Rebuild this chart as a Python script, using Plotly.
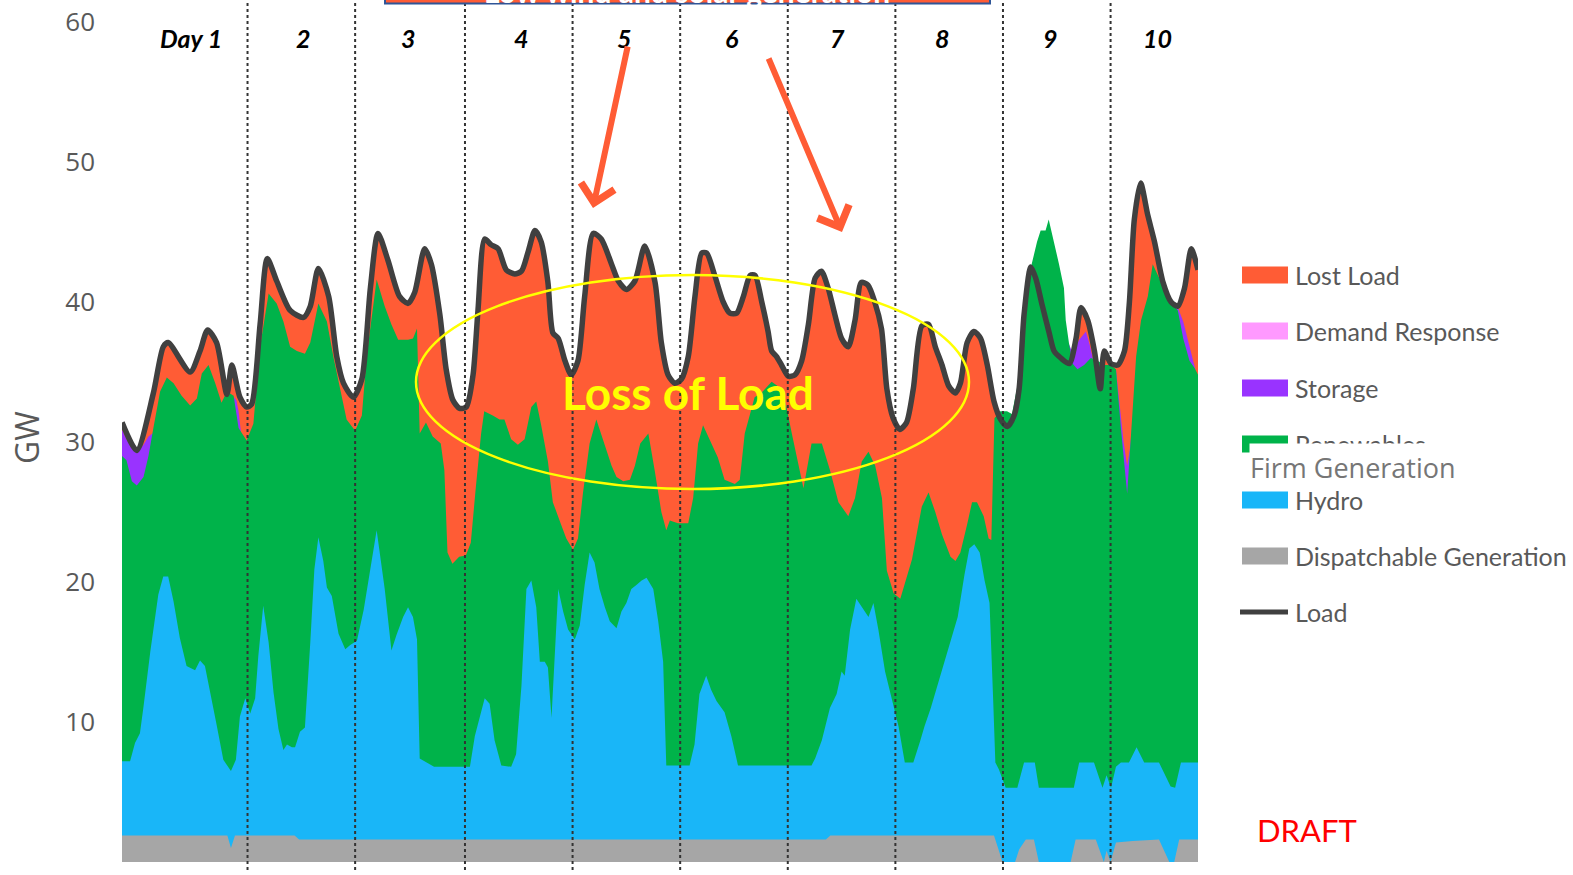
import plotly.graph_objects as go

# Hours from the start of the 10-day window and GW.
load_hours = [0, 3.3, 7.0, 9.2, 10.3, 15.2, 17.4, 19.1, 21.1, 23.4, 24.5, 26.3, 27.8, 28.9,
              30.8, 32.4, 34.5, 37.5, 40.5, 42.0, 43.8, 46.1, 47.9, 49.4, 51.6, 53.5, 55.4, 57.1,
              59.3, 61.9, 63.8, 65.3, 67.5, 69.0, 70.9, 72.3, 73.8, 75.3, 76.8, 78.3, 79.4, 80.9,
              82.3, 83.9, 85.7, 87.6, 89.1, 90.6, 92.1, 93.5, 95.0, 96.1, 97.3, 98.8, 100.2, 101.7,
              103.2, 105.1, 106.9, 109.2, 110.7, 112.5, 114.4, 116.6, 118.9, 120.3, 121.8, 123.3,
              124.8, 126.3, 127.8, 129.3, 130.4, 132.2, 134.1, 135.6, 137.1, 138.6, 140.1, 141.2,
              142.7, 144.1, 144.9, 146.0, 147.1, 148.6, 150.1, 151.6, 153.1, 154.6, 156.0, 157.5,
              159.0, 160.5, 162.0, 163.5, 164.9, 166.4, 167.9, 169.4, 170.6, 172.0, 173.5, 175.0,
              176.5, 178.4, 179.9, 181.4, 182.9, 184.4, 185.9, 187.0, 188.5, 190.0, 191.5, 193.0,
              194.5, 196.0, 197.5, 199.0, 200.1, 201.2, 202.7, 203.8, 205.3, 206.8, 207.9, 209.4,
              211.3, 212.8, 213.9, 215.4, 216.9, 218.2, 219.1, 220.6, 222.1, 223.6, 224.7, 225.8,
              227.2, 228.8, 230.3, 232.2, 234.0, 235.5, 237.0, 238.5, 240.0]
load_gw = [31.4, 29.4, 33.5, 36.8, 37.1, 35.0, 36.5, 38.0, 37.1, 33.4, 35.5, 33.2, 32.5, 32.7,
           38.4, 43.1, 41.5, 39.4, 38.9, 39.7, 42.4, 40.4, 36.1, 34.2, 33.2, 34.5, 41.0, 44.9,
           43.0, 40.4, 39.9, 40.7, 43.8, 42.7, 39.1, 35.2, 33.0, 32.4, 32.5, 34.8, 39.4, 44.5,
           44.1, 43.8, 42.3, 42.0, 42.2, 43.6, 45.1, 44.3, 41.4, 37.8, 37.4, 35.8, 34.8, 35.8,
           40.4, 44.9, 44.5, 42.7, 41.5, 40.9, 41.5, 44.0, 41.4, 37.1, 34.8, 34.2,
           34.5, 36.1, 40.4, 43.5, 43.5, 41.9, 40.0, 39.2, 39.2, 40.4, 41.9, 41.9,
           40.0, 37.9, 36.5, 36.1, 35.5, 34.7, 34.8, 35.8, 38.4, 41.7, 42.2, 41.0,
           39.1, 37.4, 36.8, 38.7, 41.4, 41.2, 40.0, 38.1, 33.8, 31.7, 30.9, 31.4,
           33.8, 38.3, 38.4, 36.8, 35.5, 34.0, 33.5, 34.2, 37.1, 37.9, 37.4, 35.5,
           32.9, 31.6, 31.1, 31.9, 33.8, 39.1, 42.5, 41.7, 39.7, 37.8, 36.5, 36.0,
           35.6, 37.4, 39.6, 38.7, 36.5, 33.8, 36.5, 35.6, 35.5, 36.5, 40.0, 45.9,
           48.5, 46.2, 44.3, 41.4, 40.0, 39.7, 41.0, 43.8, 42.3]

renew_hours = [0, 1.0, 2.2, 3.3, 4.8, 5.9, 7.0, 8.5, 10.0, 11.5, 13.3, 15.2, 16.7, 17.8, 19.3,
               20.8, 22.2, 23.4, 24.9, 26.0, 27.8, 29.3, 30.8, 32.7, 34.5, 36.0, 37.5, 39.0, 40.8,
               42.0, 43.8, 45.7, 47.2, 48.7, 50.1, 52.0, 53.5, 54.6, 56.8, 58.6, 60.1, 61.6, 63.8,
               64.9, 65.8, 66.4, 67.8, 69.3, 71.1, 71.9, 72.6, 73.7, 75.2, 76.7, 77.8, 78.9, 80.1,
               80.8, 82.7, 84.2, 85.3, 86.8, 88.3, 89.8, 91.3, 92.4, 93.5, 95.0, 96.1, 97.6, 99.1,
               100.6, 101.7, 102.8, 104.3, 105.8, 107.3, 109.2, 110.3, 111.8, 113.3, 114.4, 115.6,
               117.4, 118.8, 120.3, 121.4, 122.2, 124.0, 126.3, 127.4, 128.5, 129.6, 131.1, 132.9,
               134.4, 136.7, 137.8, 138.9, 140.0, 141.1, 142.6, 144.9, 147.1, 148.2, 149.4, 150.9,
               152.0, 153.8, 156.1, 157.9, 159.8, 162.0, 163.5, 165.0, 166.5, 168.0, 169.5, 170.6,
               172.1, 173.6, 175.1, 176.2, 177.3, 178.4, 179.9, 181.4, 182.9, 184.8, 185.9, 187.0,
               188.5, 189.6, 190.7, 192.2, 193.3, 193.9, 194.6, 195.9, 197.4, 198.5, 199.6, 201.1,
               202.6, 204.1, 204.9, 206.0, 206.7, 207.9, 209.0, 210.1, 210.5, 211.2, 212.0, 213.1,
               214.6, 216.1, 217.6, 219.1, 220.5, 221.7, 222.8, 224.2, 225.1, 226.2, 227.3, 228.8,
               229.9, 231.8, 233.3, 234.8, 235.5, 236.7, 238.1, 239.2, 240.0]
renew_top_gw = [29.0, 28.7, 27.2, 26.9, 27.5, 29.0, 31.0, 33.6, 34.6, 34.2, 33.3, 32.6, 33.1, 34.9, 35.5,
                34.2, 32.8, 33.6, 33.3, 31.0, 30.1, 31.3, 36.8, 40.6, 39.9, 38.6, 36.8, 36.5, 36.3,
                37.1, 39.9, 38.6, 36.0, 33.6, 31.6, 30.8, 31.9, 36.2, 41.6, 39.7, 38.4, 37.3, 37.3,
                37.4, 38.1, 30.6, 31.4, 30.4, 29.9, 28.0, 22.1, 21.3, 21.8, 21.9, 22.8, 26.7, 30.6,
                32.2, 31.9, 31.6, 31.6, 30.2, 29.8, 30.2, 32.5, 32.9, 31.2, 28.6, 25.7, 24.4, 23.1,
                22.3, 23.1, 26.3, 29.9, 31.6, 30.2, 28.3, 27.5, 27.2, 27.3, 28.3, 29.9,
                30.6, 28.0, 25.0, 23.7, 24.4, 24.2, 24.2, 26.0, 29.9, 31.2, 30.2, 28.9,
                27.3, 27.0, 27.3, 30.6, 31.9, 33.2, 33.5, 34.3, 33.8, 32.5, 30.6, 28.3,
                26.7, 29.9, 29.9, 28.0, 25.7, 24.7, 26.0, 28.6, 29.3, 28.3, 26.0, 20.8,
                19.2, 18.8, 20.5, 21.6, 23.5, 25.4, 26.4, 25.0, 23.4, 21.8, 21.5, 22.1,
                24.1, 25.7, 25.7, 24.7, 23.1, 23.0, 31.7, 32.2, 32.2, 32.0, 33.8, 38.4,
                42.3, 44.3, 45.1, 45.1, 45.9, 44.3, 42.7, 41.0, 38.7, 37.1, 35.6, 35.2,
                35.5, 36.0, 35.8, 35.5, 35.5, 35.2, 31.0, 26.3, 30.6, 36.1, 38.7, 40.4,
                42.7, 41.4, 40.2, 39.7, 39.4, 37.4, 35.8, 35.3, 34.8]

hydro_hours = [0, 1.8, 2.9, 4.0, 4.8, 6.3, 8.1, 9.2, 10.3, 11.5, 12.9, 14.4, 16.3, 17.4, 18.5,
               19.6, 21.1, 22.6, 24.3, 25.4, 26.3, 27.5, 28.6, 29.7, 30.4, 31.5, 32.7, 33.8, 34.9,
               36.0, 36.8, 37.9, 38.6, 39.7, 40.8, 42.0, 42.9, 43.8, 44.9, 45.7, 46.8, 48.3, 49.8,
               50.9, 52.4, 53.9, 55.4, 56.8, 58.6, 60.1, 61.2, 62.7, 63.8, 64.9, 65.8, 66.4, 69.6,
               77.6, 78.7, 79.8, 80.9, 82.0, 83.1, 84.6, 86.8, 87.9, 89.1, 90.2, 91.3, 92.4, 93.2,
               94.3, 95.0, 95.8, 97.3, 98.4, 99.5, 101.0, 102.1, 103.2, 104.3, 105.4, 106.5, 107.7,
               108.8, 110.3, 111.4, 112.5, 113.6, 114.8, 115.9, 117.0, 118.5, 119.6, 120.7, 121.4,
               126.6, 127.7, 128.8, 130.3, 131.4, 132.6, 134.4, 135.9, 137.4, 153.8, 154.6, 156.1,
               157.9, 159.4, 160.5, 161.2, 162.4, 163.8, 165.0, 166.5, 167.6, 168.7, 170.2, 171.7,
               173.2, 174.6, 176.5, 178.0, 179.0, 180.4, 181.9, 183.4, 184.9, 186.4, 187.9, 189.0,
               190.1, 191.3, 192.4, 193.5, 194.3, 194.8, 195.6, 197.1, 199.7, 201.2, 203.6, 204.5,
               212.3, 213.5, 216.8, 218.7, 219.6, 220.6, 221.7, 222.8, 224.6, 226.3, 228.0, 231.3,
               233.9, 234.9, 236.2, 240.0]
hydro_top_gw = [7.2, 7.2, 8.5, 9.2, 11.1, 15.0, 19.1, 20.4, 20.4, 18.6, 16.0, 14.0, 13.7, 14.4, 14.0,
                12.1, 9.8, 7.3, 6.5, 7.3, 10.4, 11.7, 10.6, 11.7, 14.7, 18.3, 15.7, 12.1, 9.5,
                8.0, 8.4, 8.2, 8.2, 9.3, 9.6, 15.7, 20.9, 23.2, 21.5, 19.6, 19.0, 16.3, 15.2,
                15.5, 15.8, 18.0, 20.9, 23.7, 19.5, 15.1, 16.2, 17.5, 18.2, 17.5, 15.9, 7.4, 6.8,
                6.8, 9.0, 10.4, 11.7, 11.3, 8.7, 6.9, 6.8, 7.7, 12.6, 19.5, 20.1, 18.2, 14.3,
                14.3, 13.9, 10.3, 19.5, 17.9, 16.6, 15.9, 16.9, 19.8, 22.1, 21.4, 19.5, 18.2,
                17.2, 16.7, 17.9, 18.5, 19.5, 19.8, 20.1, 20.3, 19.5, 17.2, 14.3, 6.9,
                6.9, 8.4, 12.0, 13.3, 12.3, 11.5, 10.7, 9.0, 6.9, 6.9, 7.4, 8.7,
                11.0, 12.0, 13.6, 13.3, 16.6, 18.8, 18.2, 17.5, 18.5, 16.6, 13.6, 11.7,
                9.7, 7.1, 7.1, 8.6, 9.7, 11.0, 12.6, 14.3, 15.9, 17.5, 20.5, 22.4,
                22.7, 22.1, 20.1, 18.5, 11.7, 7.1, 6.6, 5.3, 5.3, 7.1, 7.1, 5.3,
                5.3, 7.1, 7.1, 5.3, 6.2, 5.3, 6.8, 7.1, 7.1, 8.2, 7.1, 7.1,
                5.4, 5.3, 7.1, 7.1]

dispatch_hours = [0, 23.5, 24.3, 25.2, 38.5, 39.5, 157.0, 158.0, 194.5, 196.4, 199.2, 200.1, 201.6,
                  203.4, 204.5, 211.6, 212.7, 217.2, 219.0, 219.6, 220.5, 221.7, 225.4, 231.3,
                  233.6, 234.7, 235.8, 240.0]
dispatch_gw = [1.9, 1.9, 1.0, 1.9, 1.9, 1.6, 1.6, 1.9, 1.9, 0, 0, 0.9, 1.6,
               1.6, 0, 0, 1.6, 1.6, 0, 0.8, 0, 1.4, 1.5, 1.6,
               0, 0, 1.6, 1.6]

# storage output stacked on renewables; None separates the separate events
storage_hours = [0, 1.0, 2.2, 3.3, 4.8, 5.9, 6.8, 7.5, None,
                 25.0, 25.5, 26.0, 26.5, None,
                 211.2, 212.0, 213.5, 215.0, 215.8, 216.6, None,
                 221.7, 222.4, 223.4, 224.2, 224.8, 225.3, None,
                 234.8, 235.5, 236.7, 237.7, 238.8, 239.4]
storage_top_gw = [30.9, 30.2, 29.6, 29.2, 29.8, 30.4, 30.6, 31.0, None,
                  33.2, 33.0, 32.2, 30.8, None,
                  37.0, 36.4, 37.3, 37.9, 37.0, 35.9, None,
                  35.2, 33.0, 30.0, 28.3, 29.5, 31.0, None,
                  39.7, 39.6, 38.6, 37.4, 36.0, 35.2]

day_labels = ["Day 1", "2", "3", "4", "5", "6", "7", "8", "9", "10"]
day_label_hours = [15.5, 40.5, 64, 89, 112, 136, 159.5, 183, 207, 231]
day_break_hours = [28, 52, 76.5, 100.5, 124.5, 148.5, 172.5, 196.5, 220.5]

legend_labels = ["Lost Load", "Demand Response", "Storage", "Renewables", "Hydro",
                 "Dispatchable Generation", "Load"]

LOST = "#FF5C35"
DR = "#FF99FF"
STORAGE = "#9933FF"
RENEW = "#00B34A"
HYDRO = "#19B6F8"
DISPATCH = "#A6A6A6"
LOAD = "#404040"
legend_colors = [LOST, DR, STORAGE, RENEW, HYDRO, DISPATCH, LOAD]

W, H = 1573, 875
L, R, T, B = 122, 1198, 22, 862


def xp(px):
    return (px - L) / (R - L)


def yp(py):
    return (B - py) / (B - T)


def area(x, y, color, shape="linear"):
    return go.Scatter(x=x, y=y, mode="lines", fill="tozeroy", fillcolor=color,
                      line=dict(width=0, color=color, shape=shape, smoothing=0.7),
                      showlegend=False, hoverinfo="skip")


fig = go.Figure()

# lost load = whatever of the load area is not covered by the supply stack
fig.add_trace(area(load_hours, load_gw, LOST, shape="spline"))

seg_h, seg_v = [], []
for h, v in zip(storage_hours + [None], storage_top_gw + [None]):
    if h is None:
        fig.add_trace(area(seg_h, seg_v, STORAGE))
        seg_h, seg_v = [], []
    else:
        seg_h.append(h)
        seg_v.append(v)

fig.add_trace(area(renew_hours, renew_top_gw, RENEW))
fig.add_trace(area(hydro_hours, hydro_top_gw, HYDRO))
fig.add_trace(area(dispatch_hours, dispatch_gw, DISPATCH))

fig.add_trace(go.Scatter(x=load_hours, y=load_gw, mode="lines",
                         line=dict(color=LOAD, width=5.5, shape="spline", smoothing=0.7),
                         showlegend=False, hoverinfo="skip"))

shapes = []
for h in day_break_hours:
    shapes.append(dict(type="line", xref="x", yref="paper", x0=h, x1=h,
                       y0=yp(870), y1=yp(0), layer="above",
                       line=dict(color="#333333", width=2, dash="dot")))

# loss-of-load ellipse
shapes.append(dict(type="circle", xref="paper", yref="paper", x0=xp(416), x1=xp(969),
                   y0=yp(489), y1=yp(275), layer="above",
                   line=dict(color="#FFFF00", width=2.5)))

# clipped title box at the very top
shapes.append(dict(type="rect", xref="paper", yref="paper", x0=xp(385), x1=xp(990),
                   y0=yp(3.5), y1=yp(-40), layer="above", fillcolor=LOST,
                   line=dict(color="#2F5597", width=2)))

annotations = []
for txt, h in zip(day_labels, day_label_hours):
    annotations.append(dict(x=h, xref="x", y=yp(38), yref="paper", xanchor="center",
                            yanchor="middle", text=f"<b><i>{txt}</i></b>", showarrow=False,
                            font=dict(family="Lato", size=25, color="black")))

annotations.append(dict(x=xp(687), y=yp(11), xref="paper", yref="paper", xanchor="center",
                        yanchor="bottom", text="<b>Low wind and solar generation</b>",
                        showarrow=False, font=dict(family="Lato", size=30, color="white")))

annotations.append(dict(x=xp(688), y=yp(392), xref="paper", yref="paper", xanchor="center",
                        yanchor="middle", text="<b>Loss of Load</b>", showarrow=False,
                        font=dict(family="Lato", size=46, color="#FFFF00")))

# the two pointer arrows
for tip, tail in [((593, 208), (628, 45)), ((842, 232), (768, 57))]:
    annotations.append(dict(x=xp(tip[0]), y=yp(tip[1]), xref="paper", yref="paper",
                            ax=tail[0] - tip[0], ay=tail[1] - tip[1], text="",
                            showarrow=True, arrowhead=4, arrowsize=1.1, arrowwidth=6,
                            arrowcolor=LOST))

annotations.append(dict(x=xp(26), y=yp(438), xref="paper", yref="paper", xanchor="center",
                        yanchor="middle", text="GW", textangle=-90, showarrow=False,
                        font=dict(family="Open Sans", size=32, color="#595959")))

annotations.append(dict(x=xp(1307), y=yp(830), xref="paper", yref="paper", xanchor="center",
                        yanchor="middle", text="DRAFT", showarrow=False,
                        font=dict(family="Lato", size=31, color="#FF0000")))

# hand-built legend
row_y = [275, 331, 388, 444, 500, 556, 612]
for label, color, ry in zip(legend_labels, legend_colors, row_y):
    if label == "Load":
        shapes.append(dict(type="line", xref="paper", yref="paper", x0=xp(1240), x1=xp(1288),
                           y0=yp(ry), y1=yp(ry), line=dict(color=color, width=5)))
    else:
        shapes.append(dict(type="rect", xref="paper", yref="paper", x0=xp(1242), x1=xp(1288),
                           y0=yp(ry + 8.5), y1=yp(ry - 8.5), fillcolor=color,
                           line=dict(width=0)))
    annotations.append(dict(x=xp(1293), y=yp(ry), xref="paper", yref="paper", text=label,
                            xanchor="left", yanchor="middle", showarrow=False,
                            font=dict(family="Lato", size=25, color="#595959")))

# pasted-over label that hides half of "Renewables"
annotations.append(dict(x=xp(1249), y=yp(443), xref="paper", yref="paper", xanchor="left",
                        yanchor="top", width=226, height=46, align="left", valign="middle",
                        bgcolor="white", borderpad=0, text="Firm Generation", showarrow=False,
                        font=dict(family="Open Sans", size=27, color="#767676")))

fig.update_layout(
    width=W, height=H,
    margin=dict(l=L, r=W - R, t=T, b=H - B),
    paper_bgcolor="white", plot_bgcolor="white",
    showlegend=False,
    shapes=shapes, annotations=annotations,
    xaxis=dict(range=[0, 240], visible=False, fixedrange=True, automargin=False),
    yaxis=dict(range=[0, 60], tickvals=[0, 10, 20, 30, 40, 50, 60], showgrid=False,
               zeroline=False, showline=False, ticks="", ticklabelstandoff=26,
               automargin=False,
               tickfont=dict(family="Open Sans", size=26, color="#595959")),
)

# drop the page's default body margin so the figure sits at the window's corner
fig.write_html("out.html", config={"displayModeBar": False},
               post_script="document.body.style.margin='0';document.body.style.overflow='hidden';")
